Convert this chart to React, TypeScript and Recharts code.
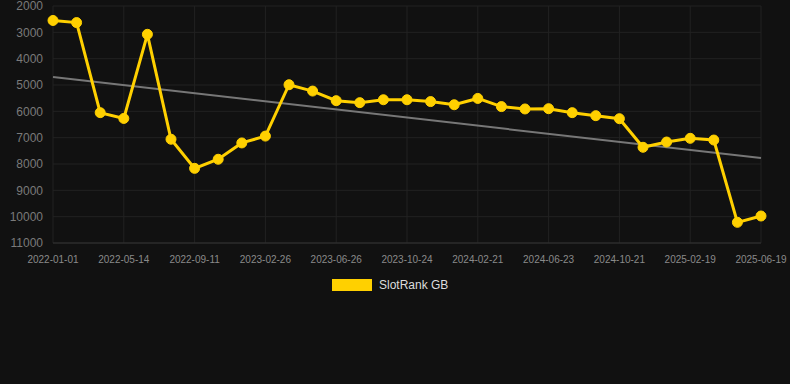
import React from "react";
import { LineChart, Line, XAxis, YAxis, CartesianGrid, Legend } from "recharts";

const dates = [
  "2022-01-01", "2022-02-14", "2022-03-31", "2022-05-14", "2022-06-23", "2022-08-02",
  "2022-09-11", "2022-11-20", "2023-01-08", "2023-02-26", "2023-04-07", "2023-05-17",
  "2023-06-26", "2023-08-05", "2023-09-14", "2023-10-24", "2023-12-03", "2024-01-12",
  "2024-02-21", "2024-04-01", "2024-05-12", "2024-06-23", "2024-08-02", "2024-09-11",
  "2024-10-21", "2024-11-30", "2025-01-09", "2025-02-19", "2025-03-31", "2025-05-10",
  "2025-06-19",
];

const slotRankGB = [
  2550, 2630, 6050, 6270, 3075, 7060, 8165, 7820, 7200, 6940, 4990, 5230,
  5595, 5670, 5560, 5560, 5630, 5750, 5510, 5820, 5910, 5900, 6050, 6165,
  6280, 7365, 7165, 7025, 7090, 10215, 9975,
];

const trendStart = 4700;
const trendEnd = 7775;

const yTicks = [2000, 3000, 4000, 5000, 6000, 7000, 8000, 9000, 10000, 11000];

const data = dates.map((d, i) => ({
  date: d,
  rank: slotRankGB[i],
  trend: i === 0 ? trendStart : i === dates.length - 1 ? trendEnd : null,
}));

const FONT = "Arial, 'Liberation Sans', Helvetica, sans-serif";

const renderLegend = (props: any) => {
  const items = (props.payload || []).filter((p: any) => p.dataKey === "rank");
  return (
    <div style={{ display: "flex", alignItems: "center", fontFamily: FONT }}>
      {items.map((p: any) => (
        <div key={p.value} style={{ display: "flex", alignItems: "center" }}>
          <span style={{ display: "inline-block", width: 40, height: 12, background: p.color, marginRight: 7 }} />
          <span style={{ color: "#dddddd", fontSize: 12 }}>{p.value}</span>
        </div>
      ))}
    </div>
  );
};

export default function App() {
  return (
    <div style={{ position: "absolute", left: 0, top: 0, width: 790, height: 384, background: "#111111" }}>
      <LineChart
        width={790}
        height={384}
        data={data}
        margin={{ top: 6, right: 29, bottom: 111, left: 0 }}
      >
        <CartesianGrid stroke="#222222" strokeWidth={1} />
        <XAxis
          dataKey="date"
          interval={2}
          tickLine={false}
          tickMargin={7}
          axisLine={{ stroke: "#333333" }}
          tick={{ fill: "#8a8a8a", fontSize: 10, fontFamily: FONT }}
        />
        <YAxis
          reversed
          domain={[2000, 11000]}
          ticks={yTicks}
          interval={0}
          width={53}
          tickLine={false}
          axisLine={false}
          tickMargin={4}
          tick={{ fill: "#7a7a7a", fontSize: 12, fontFamily: FONT }}
        />
        <Legend
          verticalAlign="middle"
          align="center"
          content={renderLegend}
          wrapperStyle={{ top: 278, left: 332, width: 200, height: 14 }}
        />
        <Line
          dataKey="trend"
          name="Trend"
          stroke="#777777"
          strokeWidth={2}
          dot={false}
          activeDot={false}
          connectNulls
          isAnimationActive={false}
          legendType="none"
        />
        <Line
          dataKey="rank"
          name="SlotRank GB"
          stroke="#ffd000"
          strokeWidth={3}
          dot={{ r: 5, fill: "#ffd000", stroke: "#ffd000", strokeWidth: 1 }}
          isAnimationActive={false}
        />
      </LineChart>
    </div>
  );
}
